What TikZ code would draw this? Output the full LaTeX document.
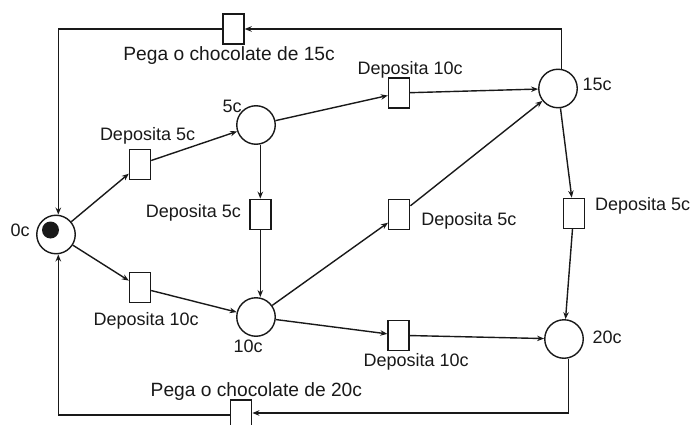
\documentclass[tikz,border=0pt]{standalone}
\usepackage{fontspec}
\setmainfont{Liberation Sans}
\usetikzlibrary{arrows.meta,calc}
\begin{document}
\begin{tikzpicture}[x=1pt,y=-1pt, line width=1.4pt, draw=black!90,
 place/.style={circle,draw,minimum size=38.5pt,inner sep=0pt},
 trans/.style={rectangle,draw,minimum width=21pt,minimum height=30pt,inner sep=0pt},
 lbl/.style={anchor=base west,inner sep=0pt,font=\fontsize{18}{20}\selectfont,text=black!90},
 wlbl/.style={lbl,font=\fontsize{19.2}{21}\selectfont},
 arc/.style={-{Stealth[length=7pt,width=5.5pt]}},
 token/.style={circle,fill=black!90,draw=none,minimum size=17pt,inner sep=0pt}]
\useasboundingbox (0,0) rectangle (690,425);
\clip (0,0) rectangle (690,425);
% places
\node[place] (p0) at (56,234.5) {};
\node[token] (tok) at (50.5,230) {};
\node[place] (p5) at (256,125) {};
\node[place] (p10) at (256,317) {};
\node[place] (p15) at (558,88.5) {};
\node[place] (p20) at (564,339) {};
% transitions
\node[trans] (tA) at (140,164.3) {};
\node[trans] (tB) at (140,287.7) {};
\node[trans] (tC) at (260.3,214.3) {};
\node[trans] (tD) at (399,93) {};
\node[trans] (tE) at (399.2,214.7) {};
\node[trans] (tF) at (398.5,335.3) {};
\node[trans] (tG) at (573.7,213.3) {};
\node[trans] (tH) at (233.5,29) {};
\node[trans] (tI) at (241.2,415) {};
% arcs
\draw[arc] (p0) -- (tA);
\draw[arc] (tA) -- (p5);
\draw[arc] (p5.south -| tC) -- (tC);
\draw[arc] (tC) -- (tC |- p10.north);
\draw[arc] (p0) -- (tB);
\draw[arc] (tB) -- (p10);
\draw[arc] (p5) -- (tD);
\draw[arc] (tD) -- (p15);
\draw[arc] (p10) -- (tE);
\draw[arc] (tE) -- (p15);
\draw[arc] (p10) -- (tF);
\draw[arc] (tF) -- (p20);
\draw[arc] (p15) -- (tG);
\draw[arc] (tG) -- (p20);
\draw[arc] ([xshift=3.5pt]p15.north) |- (tH);
\draw[arc] (tH) -| ([xshift=2.3pt]p0.north);
\draw[arc] ([xshift=4.3pt]p20.south) |- ([yshift=2pt]tI.east);
\draw[arc] (tI.west) -| ([xshift=2.3pt]p0.south);
% labels
\node[wlbl] (l15p) at (122.7,61) {Pega o chocolate de 15c};
\node[lbl] (l5) at (222,113) {5c};
\node[lbl] (lA) at (99.3,140) {Deposita 5c};
\node[lbl,anchor=base east] (lC) at (241.7,217.3) {Deposita 5c};
\node[lbl] (lD) at (357,74.5) {Deposita 10c};
\node[lbl] (l15) at (582,90.7) {15c};
\node[lbl] (lE) at (420.7,225.7) {Deposita 5c};
\node[lbl] (lG) at (594.3,210) {Deposita 5c};
\node[lbl] (l0) at (10,236.7) {0c};
\node[lbl] (lB) at (93,325) {Deposita 10c};
\node[lbl] (l10) at (233,352.7) {10c};
\node[lbl] (lF) at (363,366.5) {Deposita 10c};
\node[lbl] (l20) at (592,343) {20c};
\node[wlbl] (l20p) at (150,396) {Pega o chocolate de 20c};
\end{tikzpicture}
\end{document}
